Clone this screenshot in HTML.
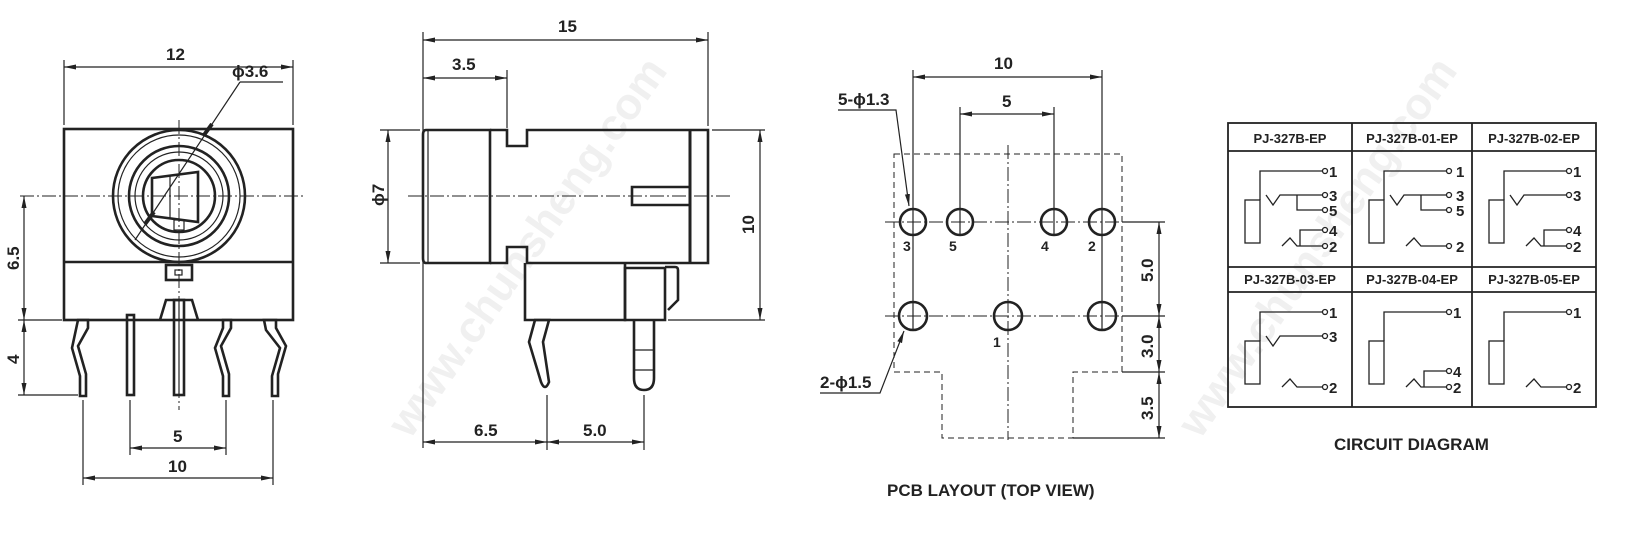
<!DOCTYPE html>
<html><head><meta charset="utf-8"><style>
html,body{margin:0;padding:0;background:#fff;}
svg{display:block;font-family:"Liberation Sans",Arial,sans-serif;}
.t{font-size:17px;fill:#222;font-weight:bold;}
.s{font-size:13px;fill:#222;font-weight:bold;}
.k{stroke:#222;fill:none;stroke-width:1.2;}
.b{stroke:#222;fill:none;stroke-width:2.6;}
.c{stroke:#222;fill:none;stroke-width:1;stroke-dasharray:14 3 2 3;}
.d{stroke:#222;fill:none;stroke-width:1;stroke-dasharray:6 4;}
.w{font-size:44px;font-weight:bold;fill:#f0f0f0;}
</style></head><body>
<svg width="1644" height="543" viewBox="0 0 1644 543" xmlns="http://www.w3.org/2000/svg">
<defs>
<marker id="a" viewBox="0 0 12 6" refX="12" refY="3" markerWidth="12" markerHeight="6" orient="auto-start-reverse" markerUnits="userSpaceOnUse"><path d="M0,0.5 L12,3 L0,5.5z" fill="#222"/></marker>
</defs>
<text class="w" transform="translate(410,440) rotate(-55)">www.chunsheng.com</text>
<text class="w" transform="translate(1200,440) rotate(-55)">www.chunsheng.com</text>

<!-- ===== VIEW 1 ===== -->
<g>
<rect x="64" y="129" width="229" height="191" class="b"/>
<line x1="64" y1="262" x2="293" y2="262" class="b"/>
<line x1="20" y1="196" x2="305" y2="196" class="c"/>
<line x1="179" y1="120" x2="179" y2="410" class="c"/>
<circle cx="179" cy="196" r="66" class="b"/>
<circle cx="179" cy="196" r="61" class="k"/>
<circle cx="179" cy="196" r="50" class="b"/>
<circle cx="179" cy="196" r="44" class="k"/>
<circle cx="179" cy="196" r="36" class="b"/>
<path d="M152,178 L198,172 L198,222 L152,216 Z" class="b"/>
<line x1="170" y1="176" x2="170" y2="218" class="k"/>
<rect x="174" y="220" width="10" height="10" class="k"/>
<rect x="166" y="265" width="26" height="15" class="b"/>
<rect x="175" y="270" width="7" height="5" class="k"/>
<path d="M160,320 L166,300 L192,300 L198,320" class="b"/>
<line x1="135" y1="240" x2="240" y2="82" class="k"/>
<line x1="240" y1="82" x2="283" y2="82" class="k"/>
<line x1="145" y1="224" x2="154" y2="212" stroke="#222" stroke-width="4"/>
<line x1="204" y1="135" x2="212" y2="124" stroke="#222" stroke-width="4"/>
<text x="232" y="77" class="t">ϕ3.6</text>
<path d="M78,320 h10 v8 l-10,18 l8,28 v22 h-6 v-20 l-8,-28 z" class="b"/>
<rect x="127" y="315" width="7" height="80" class="b"/>
<rect x="174" y="300" width="10" height="95" class="b"/>
<line x1="179" y1="300" x2="179" y2="395" class="k"/>
<path d="M223,320 h8 v8 l-10,18 l8,28 v22 h-6 v-20 l-8,-28 l8,-20z" class="b"/>
<path d="M264,320 h12 v8 l10,18 l-8,28 v22 h-6 v-20 l8,-28 l-14,-18z" class="b"/>
<line x1="64" y1="60" x2="64" y2="125" class="k"/><line x1="293" y1="60" x2="293" y2="125" class="k"/>
<line x1="64" y1="67" x2="293" y2="67" class="k" marker-start="url(#a)" marker-end="url(#a)"/>
<text x="166" y="60" class="t">12</text>
<line x1="18" y1="320" x2="62" y2="320" class="k"/><line x1="18" y1="395" x2="78" y2="395" class="k"/>
<line x1="24" y1="196" x2="24" y2="320" class="k" marker-start="url(#a)" marker-end="url(#a)"/>
<line x1="24" y1="320" x2="24" y2="395" class="k" marker-start="url(#a)" marker-end="url(#a)"/>
<text class="t" transform="translate(19,270) rotate(-90)">6.5</text>
<text class="t" transform="translate(19,364) rotate(-90)">4</text>
<line x1="83" y1="400" x2="83" y2="485" class="k"/><line x1="130" y1="400" x2="130" y2="455" class="k"/>
<line x1="226" y1="400" x2="226" y2="455" class="k"/><line x1="273" y1="400" x2="273" y2="485" class="k"/>
<line x1="130" y1="448" x2="226" y2="448" class="k" marker-start="url(#a)" marker-end="url(#a)"/>
<text x="173" y="442" class="t">5</text>
<line x1="83" y1="478" x2="273" y2="478" class="k" marker-start="url(#a)" marker-end="url(#a)"/>
<text x="168" y="472" class="t">10</text>
</g>

<!-- ===== VIEW 2 ===== -->
<g>
<path d="M426,130 H490 V263 H426 Q423,263 423,258 V135 Q423,130 426,130Z" class="b"/>
<line x1="428" y1="131" x2="428" y2="262" class="k"/>
<path d="M490,130 H507 V146 H527 V130 H708 V263 H527 V247 H507 V263 H490" class="b"/>
<line x1="690" y1="130" x2="690" y2="263" stroke="#222" stroke-width="3"/>
<path d="M690,187 H632 V205 H690" class="b"/>
<line x1="408" y1="196" x2="730" y2="196" class="c"/>
<path d="M525,263 V320 H625 V263" class="b"/>
<path d="M625,320 V268 H665 V320 Z" class="b"/>
<path d="M665,267 H675 Q678,267 678,270 V300 L668,310" class="b"/>
<path d="M535,320 l-6,22 l12,40 q4,10 8,0 l-6,-40 l6,-22 z" class="b"/>
<path d="M634,320 V378 q0,12 10,12 q10,0 10,-12 V320" class="b"/>
<line x1="634" y1="350" x2="654" y2="350" class="k"/><line x1="634" y1="370" x2="654" y2="370" class="k"/>
<line x1="423" y1="32" x2="423" y2="448" class="k"/><line x1="708" y1="32" x2="708" y2="126" class="k"/>
<line x1="423" y1="40" x2="708" y2="40" class="k" marker-start="url(#a)" marker-end="url(#a)"/>
<text x="558" y="32" class="t">15</text>
<line x1="507" y1="70" x2="507" y2="128" class="k"/>
<line x1="423" y1="78" x2="507" y2="78" class="k" marker-start="url(#a)" marker-end="url(#a)"/>
<text x="452" y="70" class="t">3.5</text>
<line x1="380" y1="130" x2="420" y2="130" class="k"/><line x1="380" y1="263" x2="420" y2="263" class="k"/>
<line x1="388" y1="130" x2="388" y2="263" class="k" marker-start="url(#a)" marker-end="url(#a)"/>
<text class="t" transform="translate(384,206) rotate(-90)">ϕ7</text>
<line x1="712" y1="130" x2="765" y2="130" class="k"/><line x1="668" y1="320" x2="765" y2="320" class="k"/>
<line x1="760" y1="130" x2="760" y2="320" class="k" marker-start="url(#a)" marker-end="url(#a)"/>
<text class="t" transform="translate(754,234) rotate(-90)">10</text>
<line x1="547" y1="395" x2="547" y2="450" class="k"/><line x1="644" y1="395" x2="644" y2="450" class="k"/>
<line x1="423" y1="442" x2="547" y2="442" class="k" marker-start="url(#a)" marker-end="url(#a)"/>
<line x1="547" y1="442" x2="644" y2="442" class="k" marker-start="url(#a)" marker-end="url(#a)"/>
<text x="474" y="436" class="t">6.5</text>
<text x="583" y="436" class="t">5.0</text>
</g>

<!-- ===== PCB ===== -->
<g>
<path d="M894,154 H1122 V372 H1073 V438 H942 V372 H894 Z" class="d"/>
<line x1="885" y1="222" x2="1165" y2="222" class="c"/>
<line x1="885" y1="316" x2="1165" y2="316" class="c"/>
<line x1="1008" y1="145" x2="1008" y2="440" class="c"/>
<line x1="913" y1="70" x2="913" y2="330" class="k"/>
<line x1="1102" y1="70" x2="1102" y2="330" class="k"/>
<line x1="960" y1="107" x2="960" y2="236" class="k"/>
<line x1="1054" y1="107" x2="1054" y2="236" class="k"/>
<circle cx="913" cy="222" r="13" class="b"/><circle cx="960" cy="222" r="13" class="b"/>
<circle cx="1054" cy="222" r="13" class="b"/><circle cx="1102" cy="222" r="13" class="b"/>
<circle cx="913" cy="316" r="14" class="b"/><circle cx="1008" cy="316" r="14" class="b"/><circle cx="1102" cy="316" r="14" class="b"/>
<text x="903" y="251" class="s" style="font-size:14px">3</text>
<text x="949" y="251" class="s" style="font-size:14px">5</text>
<text x="1041" y="251" class="s" style="font-size:14px">4</text>
<text x="1088" y="251" class="s" style="font-size:14px">2</text>
<text x="993" y="347" class="s" style="font-size:14px">1</text>
<line x1="913" y1="77" x2="1102" y2="77" class="k" marker-start="url(#a)" marker-end="url(#a)"/>
<text x="994" y="69" class="t">10</text>
<line x1="960" y1="114" x2="1054" y2="114" class="k" marker-start="url(#a)" marker-end="url(#a)"/>
<text x="1002" y="107" class="t">5</text>
<path d="M838,110 H896 L909,206" class="k" marker-end="url(#a)"/>
<text x="838" y="105" class="t">5-ϕ1.3</text>
<path d="M820,393 H880 L904,331" class="k" marker-end="url(#a)"/>
<text x="820" y="388" class="t">2-ϕ1.5</text>
<line x1="1122" y1="222" x2="1165" y2="222" class="k"/>
<line x1="1122" y1="316" x2="1165" y2="316" class="k"/>
<line x1="1122" y1="372" x2="1165" y2="372" class="k"/>
<line x1="1073" y1="438" x2="1165" y2="438" class="k"/>
<line x1="1159" y1="222" x2="1159" y2="316" class="k" marker-start="url(#a)" marker-end="url(#a)"/>
<line x1="1159" y1="316" x2="1159" y2="372" class="k" marker-start="url(#a)" marker-end="url(#a)"/>
<line x1="1159" y1="372" x2="1159" y2="438" class="k" marker-start="url(#a)" marker-end="url(#a)"/>
<text class="t" transform="translate(1153,282) rotate(-90)">5.0</text>
<text class="t" transform="translate(1153,358) rotate(-90)">3.0</text>
<text class="t" transform="translate(1153,420) rotate(-90)">3.5</text>
<text x="887" y="496" class="t">PCB LAYOUT (TOP VIEW)</text>
</g>

<!-- ===== CIRCUIT TABLE ===== -->
<g>
<rect x="1228" y="123" width="368" height="284" class="b" style="stroke-width:1.8"/>
<line x1="1228" y1="151" x2="1596" y2="151" class="k" style="stroke-width:1.8"/>
<line x1="1228" y1="267" x2="1596" y2="267" class="k" style="stroke-width:1.8"/>
<line x1="1228" y1="292" x2="1596" y2="292" class="k" style="stroke-width:1.8"/>
<line x1="1352" y1="123" x2="1352" y2="407" class="k" style="stroke-width:1.8"/>
<line x1="1472" y1="123" x2="1472" y2="407" class="k" style="stroke-width:1.8"/>
<text x="1290" y="143" class="s" text-anchor="middle">PJ-327B-EP</text>
<text x="1412" y="143" class="s" text-anchor="middle">PJ-327B-01-EP</text>
<text x="1534" y="143" class="s" text-anchor="middle">PJ-327B-02-EP</text>
<text x="1290" y="284" class="s" text-anchor="middle">PJ-327B-03-EP</text>
<text x="1412" y="284" class="s" text-anchor="middle">PJ-327B-04-EP</text>
<text x="1534" y="284" class="s" text-anchor="middle">PJ-327B-05-EP</text>
<g style="stroke:#222;fill:none;stroke-width:1.3" font-size="15" font-weight="bold">
<g transform="translate(1228,151)">
<rect x="17" y="49" width="15" height="43"/><path d="M32,49 V20 H94 M38,44 L45,54 L52,44 H94 M69,44 V59 H94 M72,95 V79 H94 M54,95 L62,87 L69,95 H94"/>
<circle cx="97" cy="20" r="2.5"/><circle cx="97" cy="44" r="2.5"/><circle cx="97" cy="59" r="2.5"/><circle cx="97" cy="79" r="2.5"/><circle cx="97" cy="95" r="2.5"/>
<g fill="#222" stroke="none"><text x="101" y="26">1</text><text x="101" y="50">3</text><text x="101" y="65">5</text><text x="101" y="85">4</text><text x="101" y="101">2</text></g>
</g>
<g transform="translate(1352,151)">
<rect x="17" y="49" width="15" height="43"/><path d="M32,49 V20 H94 M38,44 L45,54 L52,44 H94 M69,44 V59 H94 M54,95 L62,87 L69,95 H94"/>
<circle cx="97" cy="20" r="2.5"/><circle cx="97" cy="44" r="2.5"/><circle cx="97" cy="59" r="2.5"/><circle cx="97" cy="95" r="2.5"/>
<g fill="#222" stroke="none"><text x="104" y="26">1</text><text x="104" y="50">3</text><text x="104" y="65">5</text><text x="104" y="101">2</text></g>
</g>
<g transform="translate(1472,151)">
<rect x="17" y="49" width="15" height="43"/><path d="M32,49 V20 H94 M38,44 L45,54 L52,44 H94 M72,95 V79 H94 M54,95 L62,87 L69,95 H94"/>
<circle cx="97" cy="20" r="2.5"/><circle cx="97" cy="44" r="2.5"/><circle cx="97" cy="79" r="2.5"/><circle cx="97" cy="95" r="2.5"/>
<g fill="#222" stroke="none"><text x="101" y="26">1</text><text x="101" y="50">3</text><text x="101" y="85">4</text><text x="101" y="101">2</text></g>
</g>
<g transform="translate(1228,292)">
<rect x="17" y="49" width="15" height="43"/><path d="M32,49 V20 H94 M38,44 L45,54 L52,44 H94 M54,95 L62,87 L69,95 H94"/>
<circle cx="97" cy="20" r="2.5"/><circle cx="97" cy="44" r="2.5"/><circle cx="97" cy="95" r="2.5"/>
<g fill="#222" stroke="none"><text x="101" y="26">1</text><text x="101" y="50">3</text><text x="101" y="101">2</text></g>
</g>
<g transform="translate(1352,292)">
<rect x="17" y="49" width="15" height="43"/><path d="M32,49 V20 H94 M72,95 V79 H94 M54,95 L62,87 L69,95 H94"/>
<circle cx="97" cy="20" r="2.5"/><circle cx="97" cy="79" r="2.5"/><circle cx="97" cy="95" r="2.5"/>
<g fill="#222" stroke="none"><text x="101" y="26">1</text><text x="101" y="85">4</text><text x="101" y="101">2</text></g>
</g>
<g transform="translate(1472,292)">
<rect x="17" y="49" width="15" height="43"/><path d="M32,49 V20 H94 M54,95 L62,87 L69,95 H94"/>
<circle cx="97" cy="20" r="2.5"/><circle cx="97" cy="95" r="2.5"/>
<g fill="#222" stroke="none"><text x="101" y="26">1</text><text x="101" y="101">2</text></g>
</g>
</g>
<text x="1334" y="450" class="t">CIRCUIT DIAGRAM</text>
</g>
</svg>
</body></html>
